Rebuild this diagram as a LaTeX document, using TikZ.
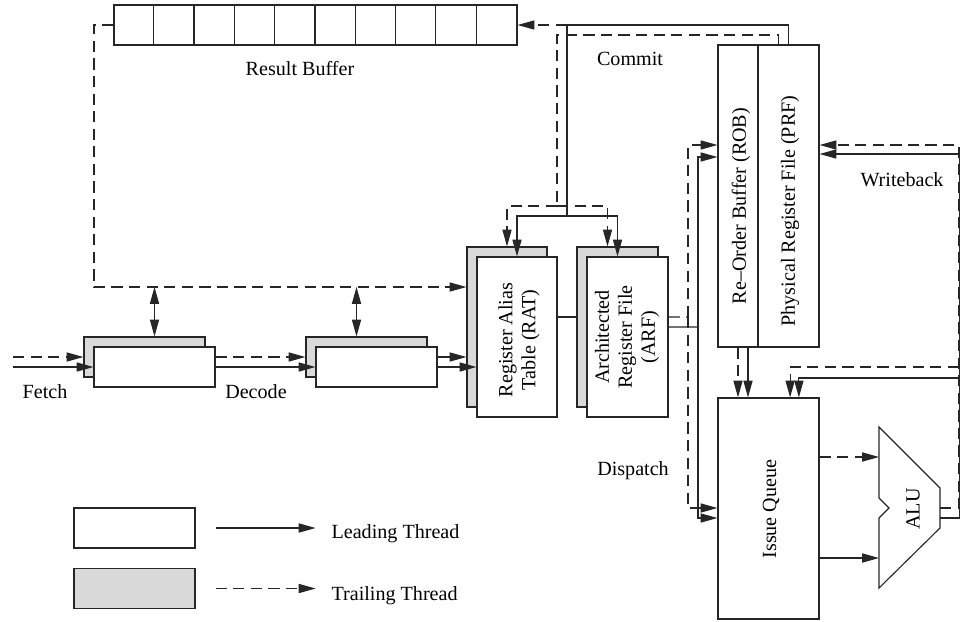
\documentclass[tikz,border=0pt]{standalone}
\usepackage{fontspec}
\setmainfont{Liberation Serif}
\usetikzlibrary{arrows.meta}
\tikzset{
  wire/.style={line width=0.8pt, black!85},
  wireT/.style={wire, dash pattern=on 8pt off 4.5pt},
  lead/.style={wire, -{Triangle[length=12pt,width=6.5pt]}},
  trail/.style={wireT, -{Triangle[length=12pt,width=6.5pt]}},
  both/.style={wire, {Triangle[length=12pt,width=6.5pt]}-{Triangle[length=12pt,width=6.5pt]}},
  blk/.style={draw=black!85, line width=0.8pt, fill=white, inner sep=0pt},
  blkB/.style={blk, fill=black!15},
  stage/.style={minimum width=3.025cm, minimum height=1cm},
  lbl/.style={font=\fontsize{14.3}{16.4}\selectfont},
  vlbl/.style={lbl, rotate=90, align=center},
}

\begin{document}
\begin{tikzpicture}[x=0.025cm, y=-0.025cm]
\useasboundingbox (0,0) rectangle (960,621);

% result buffer
\node[blk, minimum width=10.075cm, minimum height=1cm] (rb) at (315.5,25) {};
\foreach \i in {1,...,9}
  \draw[wire] ([xshift=\i*1.0075cm]rb.north west) -- ([xshift=\i*1.0075cm]rb.south west);
\node[lbl] (rbT) at (300,69) {Result Buffer};

% front end
\node[blkB, stage] (fetchB) at (144.5,357) {};
\node[blk, stage] (fetchF) at (154.5,367) {};
\node[blkB, stage] (decB) at (366.5,357) {};
\node[blk, stage] (decF) at (376.5,367) {};
\node[lbl] (fetchT) at (45,392) {Fetch};
\node[lbl] (decT) at (256,392) {Decode};

% rename
\node[blkB, minimum width=2cm, minimum height=4cm] (ratB) at (507,327) {};
\node[blk, minimum width=2cm, minimum height=4cm] (ratF) at (517,337) {};
\node[blkB, minimum width=2.025cm, minimum height=4cm] (arfB) at (617.5,327) {};
\node[blk, minimum width=2.025cm, minimum height=4cm] (arfF) at (627.5,337) {};
\node[vlbl] (ratT) at (519,340) {Register Alias\\Table (RAT)};
\node[vlbl] (arfT) at (627,337) {Architected\\Register File\\(ARF)};

% back end
\node[blk, minimum width=1cm, minimum height=7.55cm] (rob) at (738,196) {};
\node[blk, minimum width=1.525cm, minimum height=7.55cm] (prf) at (788.5,196) {};
\node[blk, minimum width=2.525cm, minimum height=5.525cm] (iq) at (768.5,508.5) {};
\node[vlbl] (robT) at (741,206) {Re--Order Buffer (ROB)};
\node[vlbl] (prfT) at (790,211) {Physical Register File (PRF)};
\node[vlbl] (iqT) at (771,509) {Issue Queue};

\draw[wire] (879,427) -- (940,488) -- (940,528) -- (879,588) -- (879,518) -- (889,508) -- (879,498) -- cycle;
\node[lbl, rotate=90] (aluT) at (913,509) {ALU};
\coordinate (aluIT) at (879,457);
\coordinate (aluIL) at (879,558);
\coordinate (aluOT) at (940,508);
\coordinate (aluOL) at (940,518);

\node[lbl] (cmtT) at (630,59) {Commit};
\node[lbl] (dspT) at (633,471) {Dispatch};
\node[lbl] (wbX) at (902,180) {Writeback};

% fetch / decode
\coordinate (fin) at (13,357);
\coordinate (finL) at (13,367);
\draw[trail] (fin) -- (fetchB.west);
\draw[lead] (finL) -- (fetchF.west);
\draw[trail] (fetchF.east |- decB.west) -- (decB.west);
\draw[lead] (fetchF.east) -- (decF.west);
\draw[lead] (decF.east |- decB.west) -- (ratB.west |- decB.west);
\draw[lead] (decF.east) -- (ratF.west |- decF.east);

\coordinate (rbc) at (94,287);
\draw[trail] (rb.west) -| (rbc) -- (ratB.west |- rbc);
\coordinate (decA) at ([xshift=-0.25cm]decB.north);
\draw[both] (fetchF.north |- rbc) -- (fetchF.north |- fetchB.north);
\draw[both] (decA |- rbc) -- (decA);

% commit
\coordinate (cmT) at (567,25);
\coordinate (cmS) at (567,216);
\coordinate (cdT) at (557,35);
\coordinate (cdS) at (557,206);
\coordinate (prfD) at ([xshift=-0.25cm]prf.north);
\coordinate (arfA) at ([xshift=-0.25cm]arfF.north);
\coordinate (arfAB) at ([xshift=-0.25cm]arfB.north);
\draw[wire] (prf.north) |- (cmT) -- (cmS);
\draw[lead] (cmS) -| (ratF.north);
\draw[lead] (cmS) -| (arfA);
\draw[wireT] (prfD) |- (cdT) -- (cdS);
\draw[trail] (cdS) -| (ratB.north);
\draw[trail] (cdS) -| (arfAB);
\draw[trail] (cmT) -- (rb.east);

\coordinate (lk) at ([yshift=0.5cm]ratF.east);
\draw[wire] (lk) -- (lk -| arfB.west);

% dispatch
\coordinate (dsL) at ([yshift=0.25cm]arfF.east);
\coordinate (dsV) at (698,327);
\coordinate (dtL) at ([yshift=0.5cm]arfF.east);
\coordinate (dtV) at (688,317);
\draw[wire] (dsL) -- (dsV);
\draw[lead] (dsV) |- (rob.west |- 0,157);
\draw[lead] (dsV) |- (iq.west |- 0,518);
\draw[wireT] (dtL) -- (dtV);
\draw[trail] (dtV) |- (rob.west |- 0,145);
\draw[trail] (dtV) |- (iq.west |- 0,508);

\coordinate (robS) at ([xshift=0.25cm]rob.south);
\draw[trail] (rob.south) -- (rob.south |- iq.north);
\draw[lead] (robS) -- (robS |- iq.north);

% issue / writeback
\draw[trail] (iq.east |- aluIT) -- (aluIT);
\draw[lead] (iq.east |- aluIL) -- (aluIL);

\coordinate (wbT) at (959,145);
\coordinate (wbL) at (960,154);
\coordinate (fbT) at (959,367);
\coordinate (fbL) at (960,378);
\draw[trail] (aluOT) -| (wbT) -- (prf.east |- wbT);
\draw[lead] (aluOL) -| (wbL) -- (prf.east |- wbL);
\draw[trail] (fbT) -| ([xshift=0.54cm]iq.north);
\draw[lead] (fbL) -| ([xshift=0.76cm]iq.north);

% legend
\node[blk, stage] (legL) at (134.5,528) {};
\node[blkB, stage] (legT) at (134.5,588.5) {};
\coordinate (legLa) at ([xshift=0.5cm]legL.east);
\coordinate (legLb) at ([xshift=3cm]legL.east);
\coordinate (legTa) at ([xshift=0.5cm]legT.east);
\coordinate (legTb) at ([xshift=3cm]legT.east);
\draw[lead] (legLa) -- (legLb);
\draw[trail] (legTa) -- (legTb);
\node[lbl, anchor=base west] (legLt) at ([xshift=0.275cm, yshift=-0.25cm]legLb) {Leading Thread};
\node[lbl, anchor=base west] (legTt) at ([xshift=0.275cm, yshift=-0.29cm]legTb) {Trailing Thread};
\end{tikzpicture}
\end{document}
